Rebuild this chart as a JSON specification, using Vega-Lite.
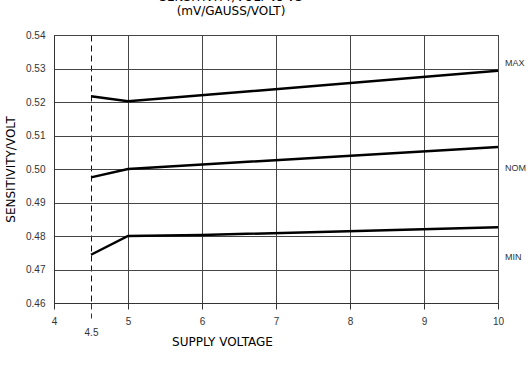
{
  "$schema": "https://vega.github.io/schema/vega-lite/v6.json",
  "width": 444,
  "height": 268,
  "autosize": "none",
  "padding": {"left": 54, "top": 35, "right": 31, "bottom": 65},
  "background": "white",
  "title": {
    "text": ["SENSITIVITY/VOLT vs VS", "(mV/GAUSS/VOLT)"],
    "font": "DejaVu Sans",
    "fontSize": 12,
    "fontWeight": "normal",
    "lineHeight": 14,
    "color": "black",
    "anchor": "middle",
    "dx": -45,
    "offset": 0,
    "baseline": "bottom"
  },
  "datasets": {
    "curves": [
      {"series": "MAX", "v": 4.5, "s": 0.5217},
      {"series": "MAX", "v": 5, "s": 0.5202},
      {"series": "MAX", "v": 10, "s": 0.5293},
      {"series": "NOM", "v": 4.5, "s": 0.4975},
      {"series": "NOM", "v": 5, "s": 0.5},
      {"series": "NOM", "v": 10, "s": 0.5066},
      {"series": "MIN", "v": 4.5, "s": 0.4744},
      {"series": "MIN", "v": 5, "s": 0.48},
      {"series": "MIN", "v": 6, "s": 0.4803},
      {"series": "MIN", "v": 10, "s": 0.4826}
    ],
    "labels": [
      {"series": "MAX", "v": 10, "s": 0.5316},
      {"series": "NOM", "v": 10, "s": 0.5003},
      {"series": "MIN", "v": 10, "s": 0.4738}
    ]
  },
  "layer": [
    {
      "data": {"name": "curves"},
      "mark": {"type": "line", "color": "black", "strokeWidth": 2.5, "clip": true},
      "encoding": {
        "x": {
          "field": "v", "type": "quantitative",
          "scale": {"domain": [4, 10], "nice": false, "zero": false},
          "axis": {
            "values": [4, 4.5, 5, 6, 7, 8, 9, 10],
            "tickCount": 20,
            "format": "~g",
            "labelOverlap": false,
            "title": "SUPPLY VOLTAGE",
            "titleFont": "DejaVu Sans",
            "titleFontSize": 12,
            "titleFontWeight": "normal",
            "titleColor": "black",
            "titleX": 168,
            "titleY": 45,
            "titleAnchor": "middle",
            "titleBaseline": "bottom",
            "labelFont": "Liberation Sans",
            "labelFontSize": 10,
            "labelColor": "#333",
            "labelFlush": false,
            "labelPadding": {"condition": {"test": "datum.value == 4.5", "value": 9}, "value": 7},
            "domainColor": "#333",
            "tickColor": "#333",
            "tickSize": {"condition": {"test": "datum.value == 4.5", "value": 15}, "value": 6},
            "tickDash": {"condition": {"test": "datum.value == 4.5", "value": [6, 4]}, "value": []},
            "grid": true,
            "gridColor": {"condition": {"test": "datum.value == 4.5", "value": "#111"}, "value": "#444"},
            "gridDash": {"condition": {"test": "datum.value == 4.5", "value": [6, 4]}, "value": []},
            "gridOpacity": 1,
            "gridWidth": 1
          }
        },
        "y": {
          "field": "s", "type": "quantitative",
          "scale": {"domain": [0.46, 0.54], "nice": false, "zero": false},
          "axis": {
            "values": [0.46, 0.47, 0.48, 0.49, 0.5, 0.51, 0.52, 0.53, 0.54],
            "tickCount": 20,
            "format": ".2f",
            "labelOverlap": false,
            "labelBound": false,
            "title": "SENSITIVITY/VOLT",
            "titleFont": "DejaVu Sans",
            "titleFontSize": 12,
            "titleFontWeight": "normal",
            "titleColor": "black",
            "titleX": -44,
            "titleY": 134,
            "titleAnchor": "middle",
            "titleBaseline": "middle",
            "labelFont": "Liberation Sans",
            "labelFontSize": 10,
            "labelColor": "#333",
            "labelPadding": 9,
            "ticks": false,
            "domainColor": "#333",
            "grid": true,
            "gridColor": "#444",
            "gridOpacity": 1,
            "gridWidth": 1
          }
        },
        "detail": {"field": "series"}
      }
    },
    {
      "data": {"name": "labels"},
      "mark": {"type": "text", "align": "left", "baseline": "middle", "dx": 7, "font": "Liberation Sans", "fontSize": 9, "color": "#333"},
      "encoding": {
        "x": {"field": "v", "type": "quantitative"},
        "y": {"field": "s", "type": "quantitative"},
        "text": {"field": "series"}
      }
    }
  ],
  "config": {"view": {"stroke": "#444", "strokeWidth": 1}, "axis": {"labelOverlap": false}}
}
